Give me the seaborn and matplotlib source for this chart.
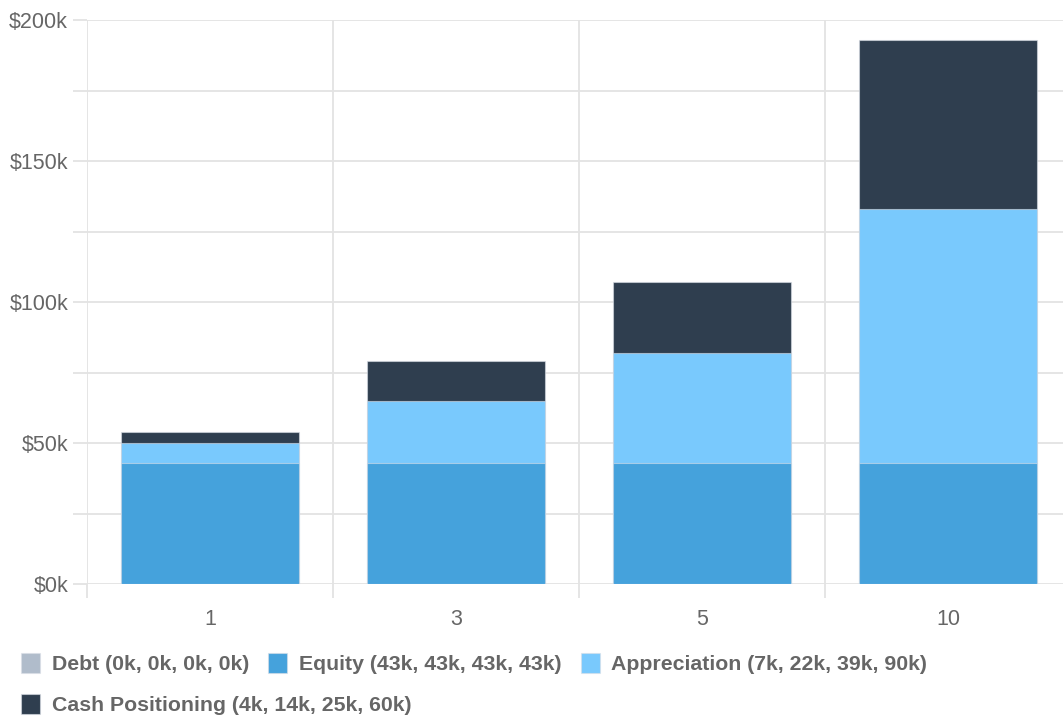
import matplotlib
matplotlib.use("Agg")
import matplotlib.pyplot as plt
import seaborn as sns
import numpy as np
import pandas as pd
from matplotlib.patches import Rectangle
from matplotlib.ticker import MultipleLocator, FuncFormatter, FixedLocator

years = ["1", "3", "5", "10"]
debt = [0, 0, 0, 0]
equity = [43000, 43000, 43000, 43000]
appreciation = [7000, 22000, 39000, 90000]
cash = [4000, 14000, 25000, 60000]
series_names = ["Debt", "Equity", "Appreciation", "Cash Positioning"]
legend_labels = [
    "Debt (0k, 0k, 0k, 0k)",
    "Equity (43k, 43k, 43k, 43k)",
    "Appreciation (7k, 22k, 39k, 90k)",
    "Cash Positioning (4k, 14k, 25k, 60k)",
]
colors = ["#b0bccb", "#45a2dc", "#79c9fd", "#2f3e4f"]

sns.set_theme(style="white")
plt.rcParams["font.family"] = ["Liberation Sans", "DejaVu Sans"]

W, H = 1063, 722
fig = plt.figure(figsize=(W / 100, H / 100), dpi=100)
ax = fig.add_axes([87 / W, (H - 584) / H, 984 / W, 564 / H])

df = pd.DataFrame({"year": years, "debt": debt, "equity": equity,
                   "appreciation": appreciation, "cash": cash})
df["l1"] = df["debt"]
df["l2"] = df["l1"] + df["equity"]
df["l3"] = df["l2"] + df["appreciation"]
df["l4"] = df["l3"] + df["cash"]

for col, c in zip(["l4", "l3", "l2", "l1"], colors[::-1]):
    sns.barplot(data=df, x="year", y=col, color=c, width=0.72, ax=ax,
                order=years, edgecolor=(0.85, 0.87, 0.9, 0.6), linewidth=0.8,
                saturation=1, zorder=3)

ax.set_xlim(-0.5, 3.5)
ax.set_ylim(0, 200000)
ax.set_xlabel("")
ax.set_ylabel("")
for s in ax.spines.values():
    s.set_visible(False)

gridc = "#e3e3e3"
ax.yaxis.set_major_locator(MultipleLocator(50000))
ax.yaxis.set_minor_locator(MultipleLocator(25000))
ax.yaxis.set_major_formatter(FuncFormatter(lambda v, p: f"${int(v/1000)}k"))
ax.xaxis.set_minor_locator(FixedLocator([-0.5, 0.5, 1.5, 2.5, 3.5]))
ax.grid(True, which="both", axis="y", color=gridc, linewidth=1.3, zorder=0)
ax.grid(True, which="minor", axis="x", color=gridc, linewidth=1.3, zorder=0)
ax.grid(False, which="major", axis="x")
ax.set_axisbelow(True)

ax.tick_params(axis="y", which="both", length=10, width=1.3, color=gridc,
               labelsize=15.5, labelcolor="#666666", pad=3.6, left=True)
ax.tick_params(axis="x", which="major", length=0, labelsize=15.5,
               labelcolor="#666666", pad=18)
ax.tick_params(axis="x", which="minor", length=10, width=1.3, color=gridc,
               bottom=True)

# legend rows
def make_handles(idx):
    return [Rectangle((0, 0), 1, 1, facecolor=colors[i],
                      edgecolor=(0.85, 0.87, 0.9, 0.6), linewidth=0.8) for i in idx]

common = dict(frameon=False, loc="upper left", borderpad=0, borderaxespad=0,
              handlelength=0.9, handleheight=1.1, handletextpad=0.55,
              columnspacing=0.9,
              prop={"family": ["Liberation Sans"], "weight": "bold", "size": 15.3})
leg1 = fig.legend(make_handles([0, 1, 2]), legend_labels[:3], ncol=3,
                  bbox_to_anchor=(21 / W, 1 - 653 / H), **common)
leg2 = fig.legend(make_handles([3]), legend_labels[3:], ncol=1,
                  bbox_to_anchor=(21 / W, 1 - 694 / H), **common)
for leg in (leg1, leg2):
    for t in leg.get_texts():
        t.set_color("#666666")

fig.savefig("out.png", dpi=100)
